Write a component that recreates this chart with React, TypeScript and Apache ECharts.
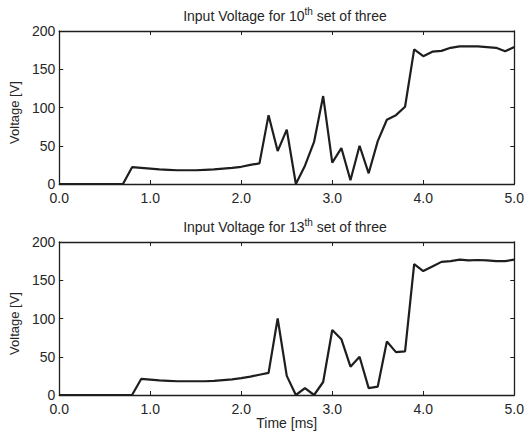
import React, { useEffect, useRef } from "react";
import * as echarts from "echarts";

const time = [
  0.0, 0.1, 0.2, 0.3, 0.4, 0.5, 0.6, 0.7, 0.8, 0.9,
  1.0, 1.1, 1.2, 1.3, 1.4, 1.5, 1.6, 1.7, 1.8, 1.9,
  2.0, 2.1, 2.2, 2.3, 2.4, 2.5, 2.6, 2.7, 2.8, 2.9,
  3.0, 3.1, 3.2, 3.3, 3.4, 3.5, 3.6, 3.7, 3.8, 3.9,
  4.0, 4.1, 4.2, 4.3, 4.4, 4.5, 4.6, 4.7, 4.8, 4.9,
  5.0,
];

const voltage10 = [
  0, 0, 0, 0, 0, 0, 0, 0, 22, 21,
  20, 19, 18.5, 18, 18, 18, 18.5, 19, 20, 21,
  22.5, 25, 27, 90, 43, 71, 0, 24, 55, 115,
  28, 47, 5, 50, 14, 56, 84, 90, 101, 176,
  167, 173, 174, 178, 180, 180, 180, 179, 178, 173.5,
  179,
];

const voltage13 = [
  0, 0, 0, 0, 0, 0, 0, 0, 0, 21,
  20, 19, 18.5, 18, 18, 18, 18, 18.5, 19.5, 20.5,
  22, 24, 26.5, 29, 100, 25, 0, 9, 0, 17,
  85, 73, 37, 50, 9, 11, 70, 56, 57, 171,
  162, 168, 174, 175, 177, 176, 176.5, 176, 175, 175,
  177,
];

const xTicks = [0, 1, 2, 3, 4, 5];
const yTicks = [0, 50, 100, 150, 200];
const titles = [
  "Input Voltage for 10{sup|th} set of three",
  "Input Voltage for 13{sup|th} set of three",
];
const yName = "Voltage [V]";
const xName = "Time [ms]";

const FONT = "'Liberation Sans', Arial, Helvetica, sans-serif";
const INK = "#1e1e1e";
const TEXT = "#262626";

export default function App() {
  const ref = useRef<HTMLDivElement>(null);
  useEffect(() => {
    if (!ref.current) return;
    const chart = echarts.init(ref.current, undefined, { renderer: "svg" });
    const gridTops = [31, 242];
    const grids = gridTops.map((t) => ({ left: 53, top: t, width: 464, height: 153 }));
    const axisLine = { show: true, onZero: false, lineStyle: { color: INK, width: 1.3 } };
    const axisTick = { show: true, inside: true, length: 4, lineStyle: { color: INK, width: 1 } };
    const xAxes: any[] = [];
    const yAxes: any[] = [];
    grids.forEach((_, i) => {
      xAxes.push({
        type: "value", gridIndex: i, position: "bottom",
        min: xTicks[0], max: xTicks[xTicks.length - 1], interval: 1,
        axisLine, axisTick, splitLine: { show: false },
        axisLabel: {
          show: true, margin: 7, fontSize: 14, lineHeight: 13, color: TEXT, fontFamily: FONT,
          formatter: (v: number) => v.toFixed(1),
        },
        name: i === 1 ? xName : "", nameLocation: "middle", nameGap: 18,
        nameTextStyle: { fontSize: 14, color: TEXT, fontFamily: FONT },
      });
      xAxes.push({
        type: "value", gridIndex: i, position: "top",
        min: xTicks[0], max: xTicks[xTicks.length - 1], interval: 1,
        axisLine, axisTick, splitLine: { show: false }, axisLabel: { show: false },
      });
      yAxes.push({
        type: "value", gridIndex: i, position: "left",
        min: yTicks[0], max: yTicks[yTicks.length - 1], interval: 50,
        axisLine, axisTick, splitLine: { show: false },
        axisLabel: { show: true, margin: 4, fontSize: 14, lineHeight: 11, color: TEXT, fontFamily: FONT },
        name: yName, nameLocation: "middle", nameGap: 38,
        nameTextStyle: { fontSize: 13, color: TEXT, fontFamily: FONT, padding: [0, 10, 0, 0] },
      });
      yAxes.push({
        type: "value", gridIndex: i, position: "right",
        min: yTicks[0], max: yTicks[yTicks.length - 1], interval: 50,
        axisLine, axisTick, splitLine: { show: false }, axisLabel: { show: false },
      });
    });
    const seriesData = [voltage10, voltage13];
    chart.setOption({
      animation: false,
      backgroundColor: "#ffffff",
      grid: grids,
      xAxis: xAxes,
      yAxis: yAxes,
      graphic: titles.map((t, i) => ({
        type: "text",
        x: 285,
        y: gridTops[i] - 15,
        style: {
          text: t,
          fill: TEXT,
          fontSize: 14,
          fontFamily: FONT,
          lineHeight: 20,
          align: "center",
          verticalAlign: "middle",
          rich: {
            sup: { fontSize: 10, fill: TEXT, fontFamily: FONT, verticalAlign: "top", lineHeight: 10 },
          },
        },
      })),
      series: seriesData.map((vals, i) => ({
        type: "line",
        xAxisIndex: i * 2,
        yAxisIndex: i * 2,
        data: time.map((t, k) => [t, vals[k]]),
        showSymbol: false,
        symbol: "none",
        lineStyle: { color: INK, width: 2.2 },
        clip: true,
      })),
    });
    return () => chart.dispose();
  }, []);
  return (
    <div
      ref={ref}
      style={{ position: "absolute", left: 0, top: 0, width: 527, height: 436 }}
    />
  );
}
